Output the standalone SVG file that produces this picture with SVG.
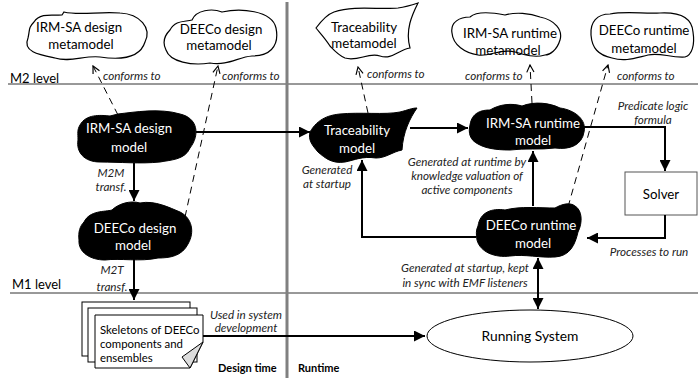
<svg xmlns="http://www.w3.org/2000/svg" width="698" height="380" viewBox="0 0 698 380">
<defs>
<style>
.t{font-family:Lato,"Liberation Sans",sans-serif;font-size:13.3px;fill:#000;text-anchor:middle}
.w{fill:#fff}
.i{font-family:Lato,"Liberation Sans",sans-serif;font-size:11.7px;font-style:italic;fill:#222;text-anchor:middle}
.s{text-anchor:start}
.b{font-family:Lato,"Liberation Sans",sans-serif;font-size:11px;font-weight:bold;fill:#000}
.meta{fill:#fff;stroke:#000;stroke-width:1.2}
.mod{fill:#000;stroke:#000;stroke-width:1}
.arr{fill:none;stroke:#000;stroke-width:2;marker-end:url(#tri)}
.dash{fill:none;stroke:#000;stroke-width:1;stroke-dasharray:7,5;marker-end:url(#open)}
.lvl{stroke:#333;stroke-width:1}
.page{fill:#fff;stroke:#000;stroke-width:1}
</style>
<marker id="tri" viewBox="0 0 10 10" refX="10" refY="5" markerWidth="11" markerHeight="11" markerUnits="userSpaceOnUse" orient="auto-start-reverse"><path d="M0,0 L10,5 L0,10 z" fill="#000"/></marker>
<marker id="open" viewBox="0 0 10 10" refX="9" refY="5" markerWidth="9" markerHeight="9" markerUnits="userSpaceOnUse" orient="auto"><path d="M1,1 L9,5 L1,9" fill="none" stroke="#000" stroke-width="1.3"/></marker>
</defs>
<rect width="698" height="380" fill="#fff"/>

<g id="levels">
<line class="lvl" x1="8" y1="84" x2="698" y2="84"/>
<line class="lvl" x1="10" y1="293" x2="698" y2="293"/>
<line x1="287" y1="2" x2="287" y2="378" stroke="#808080" stroke-width="3"/>
<text class="t s" x="10" y="83" style="font-size:13px">M2 level</text>
<text class="t s" x="12" y="289" style="font-size:13px">M1 level</text>
<text class="b" x="218" y="372">Design time</text>
<text class="b" x="298" y="372">Runtime</text>
</g>

<g id="irmsa-design-metamodel">
<path class="meta" d="M34,22 C40,12 55,16 62,15 L64,12 C80,16 100,11 120,13 C140,14 152,28 145,42 C140,58 120,60 100,57 C85,55 70,63 55,58 C40,55 22,52 28,38 C30,30 28,28 34,22 Z"/>
<text class="t" x="79" y="32">IRM-SA design</text>
<text class="t" x="81" y="49">metamodel</text>
</g>
<g id="deeco-design-metamodel">
<path class="meta" d="M170,30 C175,20 185,22 192,20 C196,10 212,8 222,12 C240,8 272,10 276,28 C280,48 268,56 252,56 C238,57 228,66 210,63 C192,66 170,62 166,50 C162,42 165,35 170,30 Z"/>
<text class="t" x="221" y="34">DEECo design</text>
<text class="t" x="219" y="50">metamodel</text>
</g>
<g id="traceability-metamodel">
<path class="meta" d="M316,28 C322,20 328,14 334,12 C355,5 380,10 398,8 C405,7 412,5 418,3 C412,15 405,30 410,48 C398,50 392,60 380,56 C368,52 358,62 345,58 C338,55 332,48 330,46 C325,38 320,33 316,28 Z"/>
<text class="t" x="364" y="32">Traceability</text>
<text class="t" x="364" y="48">metamodel</text>
</g>
<g id="irmsa-runtime-metamodel">
<path class="meta" d="M452,33 C450,22 460,17 470,17 C478,10 495,13 505,15 C515,12 530,13 540,17 C555,20 563,30 560,40 C557,50 550,55 545,55 C535,58 525,55 515,52 C500,48 490,57 478,55 C465,53 453,45 452,33 Z"/>
<text class="t" x="510" y="38">IRM-SA runtime</text>
<text class="t" x="508" y="55">metamodel</text>
</g>
<g id="deeco-runtime-metamodel">
<path class="meta" d="M591,35 C590,22 597,14 610,14 C625,11 645,14 660,13 C680,12 692,18 693,32 C695,45 692,55 685,57 C670,58 660,52 648,55 C635,58 625,62 612,58 C598,55 592,48 591,35 Z"/>
<text class="t" x="644" y="35">DEECo runtime</text>
<text class="t" x="644" y="53">metamodel</text>
</g>

<g id="irmsa-design-model">
<path class="mod" d="M80,125 C86,114 100,115 110,116 L118,114 C135,112 160,108 180,114 C198,118 200,135 190,148 C185,160 170,160 160,162 C140,164 120,162 100,162 C84,162 76,152 78,140 C78,133 77,130 80,125 Z"/>
<text class="t w" x="129" y="133">IRM-SA design</text>
<text class="t w" x="129" y="152">model</text>
</g>
<g id="deeco-design-model">
<path class="mod" d="M84,222 C90,210 105,212 112,210 C118,204 130,200 140,203 C155,200 170,208 180,212 C192,218 195,232 188,244 C182,256 170,258 158,258 C140,262 120,258 105,260 C90,260 78,252 79,240 C78,232 80,226 84,222 Z"/>
<text class="t w" x="135" y="233">DEECo design</text>
<text class="t w" x="133" y="250">model</text>
</g>
<g id="traceability-model">
<path class="mod" d="M310,132 C318,118 330,115 340,114 C360,112 385,115 400,112 C408,110 412,108 417,108 C410,118 403,132 402,150 C392,152 386,158 376,158 C362,156 355,160 345,162 C332,164 325,158 318,152 C312,145 308,140 310,132 Z"/>
<text class="t w" x="357" y="135">Traceability</text>
<text class="t w" x="357" y="153">model</text>
</g>
<g id="irmsa-runtime-model">
<path class="mod" d="M470,125 C472,112 482,110 490,110 C500,104 512,103 522,106 C535,101 550,103 560,108 C575,110 587,120 584,132 C582,145 570,150 555,148 C540,150 525,148 510,150 C495,150 485,148 478,144 C470,140 468,133 470,125 Z"/>
<text class="t w" x="533" y="128">IRM-SA runtime</text>
<text class="t w" x="533" y="145">model</text>
</g>
<g id="deeco-runtime-model">
<path class="mod" d="M478,226 C480,212 492,208 505,210 C520,206 540,208 555,208 C562,204 570,202 575,206 C582,210 583,222 578,232 C575,245 570,256 555,257 C540,258 525,254 510,256 C495,258 480,252 477,240 C476,234 476,230 478,226 Z"/>
<text class="t w" x="531" y="230">DEECo runtime</text>
<text class="t w" x="533" y="248">model</text>
</g>
<g id="solver">
<rect x="625" y="172" width="72" height="43" fill="#fff" stroke="#555" stroke-width="1"/>
<text class="t" x="661" y="199">Solver</text>
</g>
<g id="running-system">
<ellipse cx="530" cy="336" rx="103" ry="26" fill="#fff" stroke="#000" stroke-width="1"/>
<text class="t" x="530" y="341" style="font-size:13.8px">Running System</text>
</g>
<g id="skeletons">
<rect class="page" x="82" y="302" width="108" height="54"/>
<rect class="page" x="88" y="308" width="109" height="54"/>
<path class="page" d="M95,315 L203,315 L203,342 L190,368 L95,368 Z"/>
<path d="M203,342 L182,357 L190,368 Z" fill="#ddd" stroke="#000" stroke-width="1"/>
<text class="t s" x="100" y="334" style="font-size:11.4px">Skeletons of DEECo</text>
<text class="t s" x="100" y="348" style="font-size:11.4px">components and</text>
<text class="t s" x="100" y="362" style="font-size:11.4px">ensembles</text>
</g>

<g id="connectors">
<path class="dash" d="M118,115 L93,66"/>
<path class="dash" d="M185,217 L218,66"/>
<path class="dash" d="M368,113 L358,67"/>
<path class="dash" d="M532,103 L530,65"/>
<path class="dash" d="M568,207 L608,65"/>
<path class="arr" d="M196,132 L310,132"/>
<path class="arr" d="M410,128 L468,128"/>
<path class="arr" d="M134,163 L134,201"/>
<path class="arr" d="M134,259 L134,300"/>
<path class="arr" d="M476,237 L362,237 L362,160"/>
<path class="arr" d="M533,206 L533,151"/>
<path class="arr" d="M584,127 L665,127 L665,171"/>
<path class="arr" d="M665,215 L665,238 L587,238"/>
<path class="arr" d="M538,258 L538,309" style="marker-start:url(#tri)"/>
<path class="arr" d="M203,336 L425,336"/>
</g>

<g id="labels">
<text class="i s" x="103" y="80">conforms to</text>
<text class="i s" x="222" y="80">conforms to</text>
<text class="i s" x="367" y="78">conforms to</text>
<text class="i s" x="465" y="80">conforms to</text>
<text class="i s" x="617" y="80">conforms to</text>
<text class="i" x="111" y="177">M2M</text>
<text class="i" x="111" y="191">transf.</text>
<text class="i" x="112" y="274">M2T</text>
<text class="i" x="112" y="291">transf.</text>
<text class="i" x="327" y="174">Generated</text>
<text class="i" x="327" y="188">at startup</text>
<text class="i" x="467" y="166">Generated at runtime by</text>
<text class="i" x="467" y="180">knowledge valuation of</text>
<text class="i" x="467" y="194">active components</text>
<text class="i" x="653" y="110">Predicate logic</text>
<text class="i" x="653" y="124">formula</text>
<text class="i" x="649" y="256">Processes to run</text>
<text class="i" x="465" y="272">Generated at startup, kept</text>
<text class="i" x="465" y="287">in sync with EMF listeners</text>
<text class="i" x="246" y="319">Used in system</text>
<text class="i" x="246" y="332">development</text>
</g>
</svg>
